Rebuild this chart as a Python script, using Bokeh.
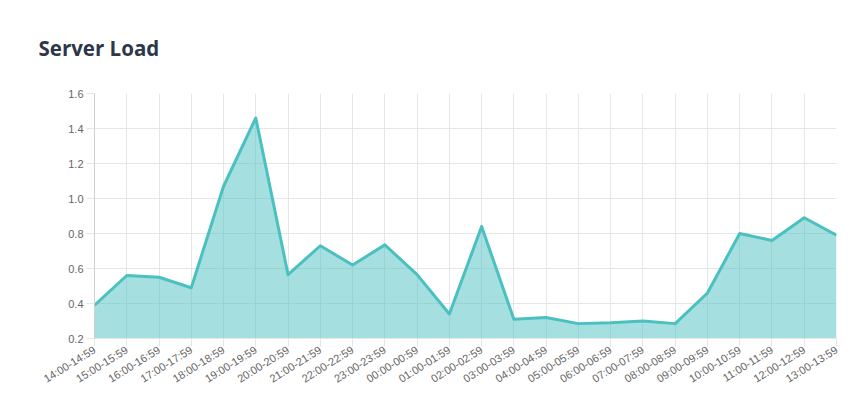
import math
from bokeh.plotting import figure
from bokeh.models import Range1d, FixedTicker, Title, NumeralTickFormatter, ColumnDataSource
from bokeh.embed import file_html
from bokeh.resources import INLINE

# ---- data ----
hours = ["14:00-14:59", "15:00-15:59", "16:00-16:59", "17:00-17:59", "18:00-18:59",
         "19:00-19:59", "20:00-20:59", "21:00-21:59", "22:00-22:59", "23:00-23:59",
         "00:00-00:59", "01:00-01:59", "02:00-02:59", "03:00-03:59", "04:00-04:59",
         "05:00-05:59", "06:00-06:59", "07:00-07:59", "08:00-08:59", "09:00-09:59",
         "10:00-10:59", "11:00-11:59", "12:00-12:59", "13:00-13:59"]
load = [0.39, 0.56, 0.55, 0.49, 1.07, 1.46, 0.565, 0.73, 0.62, 0.735,
        0.565, 0.34, 0.84, 0.31, 0.32, 0.285, 0.29, 0.30, 0.285, 0.46,
        0.80, 0.76, 0.89, 0.79]
y_ticks = [0.2, 0.4, 0.6, 0.8, 1.0, 1.2, 1.4, 1.6]
y_min, y_max = 0.2, 1.6

idx = list(range(len(hours)))
src = ColumnDataSource(dict(x=idx, y=load, base=[y_min] * len(idx)))

p = figure(width=850, height=398, output_backend="svg", toolbar_location=None,
           x_range=Range1d(0, len(hours) - 1), y_range=Range1d(y_min, y_max),
           min_border_left=94, min_border_right=14, min_border_top=92, min_border_bottom=60)
p.outline_line_color = None
p.background_fill_color = "white"
p.border_fill_color = "white"

title = Title(text="Server Load", align="left", offset=-56, standoff=63,
              text_font="Open Sans", text_font_size="20.5px", text_font_style="bold",
              text_color="#2d3748", text_line_height=1.0)
p.add_layout(title, "above")

grid_col = "#e6e6e6"
p.xgrid.ticker = FixedTicker(ticks=idx)
p.ygrid.ticker = FixedTicker(ticks=y_ticks)
p.xgrid.grid_line_color = grid_col
p.ygrid.grid_line_color = grid_col

xa = p.xaxis[0]
xa.ticker = FixedTicker(ticks=idx)
xa.major_label_overrides = {i: h for i, h in zip(idx, hours)}
xa.major_label_orientation = math.radians(32)
xa.minor_tick_line_color = None
xa.major_tick_in = 0
xa.major_tick_out = 8
xa.major_tick_line_color = grid_col
xa.axis_line_color = grid_col
xa.major_label_text_font = "Liberation Sans"
xa.major_label_text_font_size = "11px"
xa.major_label_text_color = "#666666"
xa.major_label_standoff = 2

ya = p.yaxis[0]
ya.ticker = FixedTicker(ticks=y_ticks)
ya.formatter = NumeralTickFormatter(format="0.0")
ya.minor_tick_line_color = None
ya.major_tick_in = 0
ya.major_tick_out = 8
ya.major_tick_line_color = grid_col
ya.axis_line_color = "#d0d0d0"
ya.major_label_text_font = "Liberation Sans"
ya.major_label_text_font_size = "11px"
ya.major_label_text_color = "#666666"
ya.major_label_standoff = 3

p.varea(x="x", y1="base", y2="y", source=src, fill_color="rgb(75,192,192)", fill_alpha=0.5)
p.line(x="x", y="y", source=src, line_color="rgb(75,192,192)", line_width=3, line_join="round")

open("out.html", "w").write(file_html(p, INLINE))
